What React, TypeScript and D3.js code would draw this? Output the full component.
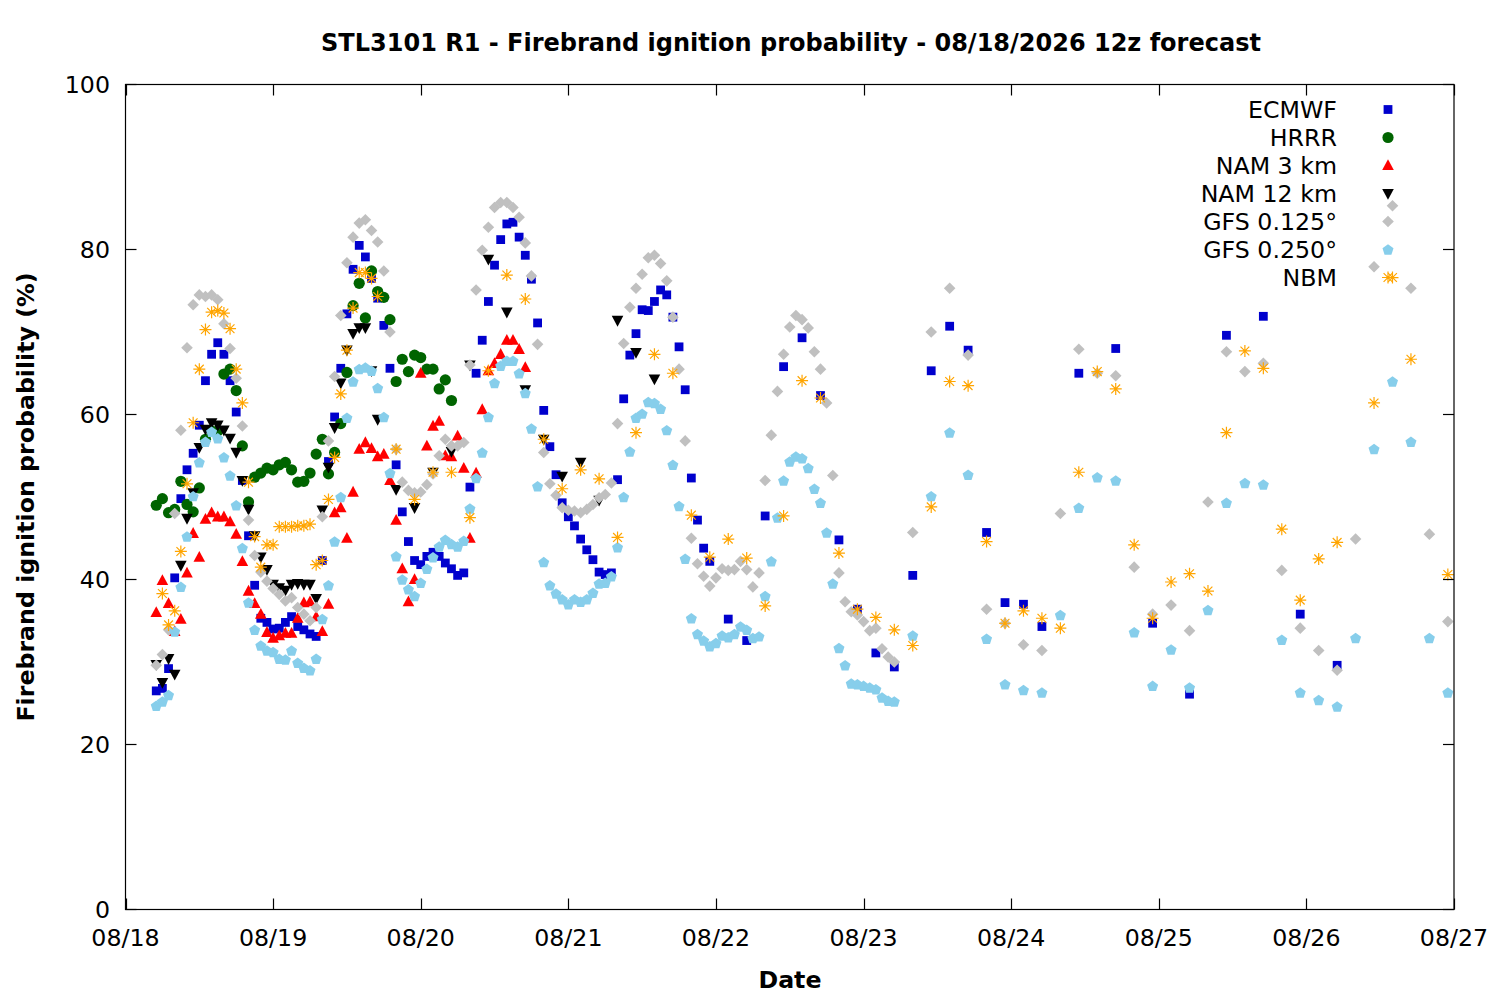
import React, { useEffect, useRef } from 'react';
import * as d3 from 'd3';

// Forecast hours of the 12z run; hour 0 sits at 08/18 05:00 on the (local) axis
const runStart = Date.UTC(2026, 7, 18, 5);

const ecmwfHours = [...d3.range(0, 91), ...d3.range(93, 145, 3), ...d3.range(150, 193, 6)];
const ecmwfValues = [
    26.5, 26.8, 29.2, 40.2, 49.8, 53.3, 55.3, 58.7, 64.1, 67.3,
    68.7, 67.3, 64.1, 60.3, 52.0, 45.3, 39.3, 35.3, 34.8, 34.0,
    34.1, 34.8, 35.5, 34.3, 33.9, 33.4, 33.1, 42.3, 54.3, 59.7,
    65.6, 72.2, 77.6, 80.5, 79.1, 76.5, 74.1, 70.8, 65.6, 53.9,
    48.2, 44.6, 42.3, 41.8, 42.8, 43.3, 42.8, 42.0, 41.3, 40.5,
    40.8, 51.2, 65.0, 69.0, 73.7, 78.1, 81.2, 83.1, 83.3, 81.5,
    79.3, 76.4, 71.1, 60.5, 56.1, 52.7, 49.3, 47.6, 46.5, 44.9,
    43.6, 42.4, 40.9, 40.6, 40.8, 52.1, 61.9, 67.2, 69.8, 72.7,
    72.6, 73.7, 75.1, 74.5, 71.8, 68.2, 63.0, 52.3, 47.2, 43.8,
    42.2,
    // 3-hourly
    35.2, 32.6, 47.7, 65.8, 69.3, 62.3, 44.8, 36.4, 31.1, 29.4,
    40.5, 65.3, 70.7, 67.8, 45.7, 37.2, 37.0, 34.3,
    // 6-hourly
    65.0, 68.0, 34.7, 26.1, 69.6, 71.9, 35.8, 29.6
];

const hrrrHours = d3.range(0, 49);
const hrrrValues = [
    49.0, 49.8, 48.1, 48.5, 51.9, 49.1, 48.2, 51.1, 57.0, 58.0,
    58.0, 64.9, 65.5, 62.9, 56.2, 49.4, 52.4, 52.9, 53.5, 53.3,
    53.9, 54.2, 53.3, 51.8, 51.9, 52.9, 55.2, 57.0, 52.8, 55.4,
    58.9, 65.1, 73.2, 75.9, 71.7, 77.4, 74.9, 74.2, 71.5, 64.0,
    66.7, 65.2, 67.2, 66.9, 65.5, 65.5, 63.1, 64.2, 61.7
];

const nam3Hours = d3.range(0, 61);
const nam3Values = [
    36.0, 39.9, 37.1, 33.7, 35.2, 40.8, 45.6, 42.7, 47.3, 48.1,
    47.6, 47.6, 47.0, 45.5, 42.2, 38.6, 37.1, 35.8, 33.6, 32.9,
    33.2, 33.5, 33.5, 35.3, 37.2, 37.3, 35.5, 33.7, 37.0, 48.1,
    48.7, 45.0, 50.6, 55.8, 56.6, 55.9, 54.9, 55.2, 52.0, 47.2,
    41.3, 37.3, 40.0, 65.0, 56.2, 58.6, 59.2, 55.0, 54.9, 57.4,
    53.5, 45.0, 52.9, 60.6, 65.3, 66.2, 67.3, 69.0, 69.0, 67.9,
    65.7
];

const nam12Hours = [...d3.range(0, 37), ...d3.range(39, 82, 3)];
const nam12Values = [
    29.7, 27.5, 30.4, 28.5, 41.7, 47.4, 50.5, 56.0, 58.2, 59.0,
    58.7, 58.1, 57.1, 55.4, 52.0, 48.5, 45.3, 42.7, 41.2, 39.4,
    39.0, 38.7, 39.4, 39.5, 39.4, 39.4, 37.7, 48.4, 53.6, 58.4,
    63.8, 67.8, 69.8, 70.5, 70.5, 65.3, 59.4,
    // 3-hourly
    50.9, 48.7, 53.0, 55.5, 66.0, 78.8, 72.4, 63.0, 57.0, 52.5,
    54.2, 49.6, 71.4, 67.5, 64.3
];

const gfsHours = [...d3.range(0, 121), ...d3.range(123, 211, 3)];
const gfs0125Values = [
    29.6, 30.9, 33.9, 48.0, 58.1, 68.1, 73.3, 74.5, 74.3, 74.5,
    73.9, 71.0, 68.0, 64.4, 58.6, 47.2, 42.9, 40.9, 39.8, 38.9,
    38.2, 37.4, 37.8, 36.6, 35.8, 35.0, 36.6, 47.6, 56.8, 64.6,
    72.0, 78.4, 81.5, 83.2, 83.6, 82.3, 80.9, 77.4, 70.0, 55.8,
    51.8, 50.8, 50.5, 50.6, 51.5, 52.8, 55.0, 57.0, 56.2, 56.2,
    56.6, 66.0, 75.1, 79.9, 82.7, 85.1, 85.7, 85.7, 85.1, 83.9,
    80.8, 76.8, 68.5, 55.4, 51.6, 50.2, 48.7, 48.4, 48.3, 48.1,
    48.5, 49.1, 49.9, 50.3, 51.7, 58.9, 68.6, 73.0, 75.3, 77.0,
    79.0, 79.3, 78.3, 76.2, 71.8, 65.5, 56.8, 45.0, 41.9, 40.4,
    39.2, 40.2, 41.3, 41.1, 41.2, 42.2, 41.2, 39.1, 40.8, 52.0,
    57.5, 62.8, 67.3, 70.6, 72.0, 71.5, 70.5, 67.6, 65.5, 61.4,
    52.6, 40.8, 37.3, 36.1, 35.7, 34.9, 33.8, 34.1, 31.6, 30.6,
    30.0,
    // 3-hourly
    45.7, 70.0, 75.3, 67.2, 36.4, 34.7, 32.1, 31.4, 48.0, 67.9,
    65.0, 64.7, 41.5, 35.8, 36.9, 33.8, 49.4, 67.6, 65.2, 66.2,
    41.1, 34.1, 31.4, 29.0, 44.9, 77.9, 85.3, 75.3, 45.5, 34.9
];
const gfs0250Values = [
    24.7, 25.2, 26.0, 33.7, 39.1, 45.2, 50.1, 54.2, 56.7, 57.9,
    57.1, 54.8, 52.6, 49.0, 43.8, 37.2, 33.9, 32.0, 31.4, 31.2,
    30.4, 30.3, 31.4, 29.9, 29.3, 29.0, 30.4, 35.2, 39.3, 44.6,
    50.0, 59.6, 64.0, 65.5, 65.7, 65.3, 63.2, 59.7, 52.9, 42.8,
    40.0, 38.8, 38.0, 39.6, 41.3, 42.7, 44.0, 44.8, 44.3, 44.0,
    44.7, 48.6, 52.3, 55.4, 59.7, 63.8, 65.9, 66.5, 66.5, 65.0,
    62.6, 58.3, 51.3, 42.1, 39.3, 38.3, 37.6, 37.0, 37.6, 37.3,
    37.6, 38.4, 39.5, 39.6, 40.4, 43.9, 50.0, 55.5, 59.6, 60.1,
    61.5, 61.4, 60.7, 58.1, 53.9, 48.9, 42.5, 35.3, 33.4, 32.6,
    31.9, 32.3, 33.2, 33.0, 33.4, 34.3, 33.9, 32.9, 33.1, 38.0,
    42.2, 47.5, 52.0, 54.3, 54.9, 54.7, 53.5, 51.0, 49.3, 45.7,
    39.5, 31.7, 29.6, 27.4, 27.3, 27.1, 26.9, 26.7, 25.7, 25.3,
    25.2,
    // 3-hourly
    33.2, 50.1, 57.8, 52.7, 32.8, 27.3, 26.6, 26.3, 35.7, 48.7,
    52.4, 52.0, 33.6, 27.1, 31.5, 26.9, 36.3, 49.3, 51.7, 51.5,
    32.7, 26.3, 25.4, 24.6, 32.9, 55.8, 64.0, 56.7, 32.9, 26.3
];

const nbmHours = [...d3.range(1, 37), ...d3.range(39, 193, 3), 198, 201, 204, 210];
const nbmValues = [
    38.3, 34.5, 36.2, 43.4, 51.6, 59.0, 65.5, 70.3, 72.4,
    72.6, 72.3, 70.4, 65.5, 61.4, 51.8, 45.2, 41.5, 44.2, 44.2,
    46.4, 46.4, 46.4, 46.5, 46.5, 46.7, 41.8, 42.3, 49.7, 54.8,
    62.5, 67.8, 72.9, 77.2, 77.2, 76.5, 74.3,
    // 3-hourly
    55.8, 49.7, 53.0, 53.0, 47.5, 65.3, 76.9, 74.0, 57.0, 51.0,
    53.3, 52.2, 45.1, 57.8, 67.3, 65.0, 47.8, 42.7, 44.9, 42.6,
    36.8, 47.7, 64.1, 62.0, 43.2, 36.4, 35.4, 33.9, 32.0, 48.8,
    64.0, 63.5, 44.6, 34.7, 36.2, 35.3, 34.1, 53.0, 65.2, 63.1,
    44.2, 35.3, 39.7, 40.7, 38.6, 57.8, 67.7, 65.6, 46.1, 37.5,
    42.5, 44.5,
    61.4, 76.6, 66.7, 40.6
];

const yTicks = [0, 20, 40, 60, 80, 100];

type Shape = 'square' | 'circle' | 'triUp' | 'triDown' | 'diamond' | 'pentagon' | 'star';

const series: { name: string; hours: number[]; values: number[]; color: string; shape: Shape }[] = [
    { name: 'ECMWF', hours: ecmwfHours, values: ecmwfValues, color: '#0000cd', shape: 'square' },
    { name: 'HRRR', hours: hrrrHours, values: hrrrValues, color: '#006400', shape: 'circle' },
    { name: 'NAM 3 km', hours: nam3Hours, values: nam3Values, color: '#ff0000', shape: 'triUp' },
    { name: 'NAM 12 km', hours: nam12Hours, values: nam12Values, color: '#000000', shape: 'triDown' },
    { name: 'GFS 0.125°', hours: gfsHours, values: gfs0125Values, color: '#c0c0c0', shape: 'diamond' },
    { name: 'GFS 0.250°', hours: gfsHours, values: gfs0250Values, color: '#87ceeb', shape: 'pentagon' },
    { name: 'NBM', hours: nbmHours, values: nbmValues, color: '#ffa500', shape: 'star' }
];

const poly = (pts: [number, number][]) => 'M' + pts.map(p => p[0].toFixed(2) + ',' + p[1].toFixed(2)).join('L') + 'Z';

function shapePath(shape: Shape): string {
    switch (shape) {
        case 'square':
            return poly([[-4.4, -4.4], [4.4, -4.4], [4.4, 4.4], [-4.4, 4.4]]);
        case 'circle':
            return d3.symbol(d3.symbolCircle, Math.PI * 5.6 * 5.6)() as string;
        case 'triUp':
            return poly([[0, -6.2], [5.8, 4.6], [-5.8, 4.6]]);
        case 'triDown':
            return poly([[0, 6.2], [5.8, -4.6], [-5.8, -4.6]]);
        case 'diamond':
            return poly([[0, -5.8], [5.8, 0], [0, 5.8], [-5.8, 0]]);
        case 'pentagon':
            return poly(d3.range(5).map(i => {
                const a = -Math.PI / 2 + i * 2 * Math.PI / 5;
                return [5.8 * Math.cos(a), 5.8 * Math.sin(a) + 0.5] as [number, number];
            }));
        case 'star':
            return 'M-6,0H6M0,-6V6M-4.4,-4.4L4.4,4.4M-4.4,4.4L4.4,-4.4';
    }
}

const App: React.FC = () => {
    const svgRef = useRef<SVGSVGElement>(null);

    useEffect(() => {
        if (!svgRef.current) return;
        const svg = d3.select(svgRef.current);
        svg.selectAll('*').remove();

        const left = 125.5, right = 1454, top = 84.5, bottom = 909.5;
        const font = "'DejaVu Sans', sans-serif";
        const fs = 23.7;

        const x = d3.scaleUtc()
            .domain([new Date(Date.UTC(2026, 7, 18)), new Date(Date.UTC(2026, 7, 27))])
            .range([left, right]);
        const y = d3.scaleLinear().domain([0, 100]).range([bottom, top]);
        const toDate = (h: number) => new Date(runStart + h * 3600 * 1000);

        svg.append('rect').attr('width', 1500).attr('height', 1000).attr('fill', 'white');

        // points, in gnuplot plot order
        series.forEach(s => {
            const d = shapePath(s.shape);
            const g = svg.append('g');
            s.hours.forEach((h, i) => {
                const v = s.values[i];
                if (v === undefined) return;
                const p = g.append('path')
                    .attr('d', d)
                    .attr('transform', `translate(${x(toDate(h)).toFixed(2)},${y(v).toFixed(2)})`);
                if (s.shape === 'star') {
                    p.attr('fill', 'none').attr('stroke', s.color).attr('stroke-width', 1.2);
                } else {
                    p.attr('fill', s.color);
                }
            });
        });

        // border
        svg.append('rect')
            .attr('x', left).attr('y', top)
            .attr('width', right - left).attr('height', bottom - top)
            .attr('fill', 'none').attr('stroke', 'black').attr('stroke-width', 1.2);

        const tickLen = 11;
        const dayTicks = x.ticks(d3.utcDay.every(1) as d3.CountableTimeInterval);
        const fmt = d3.utcFormat('%m/%d');
        dayTicks.forEach(t => {
            const px = Math.round(x(t)) + 0.5;
            svg.append('line').attr('x1', px).attr('x2', px).attr('y1', bottom).attr('y2', bottom - tickLen)
                .attr('stroke', 'black').attr('stroke-width', 1.2);
            svg.append('line').attr('x1', px).attr('x2', px).attr('y1', top).attr('y2', top + tickLen)
                .attr('stroke', 'black').attr('stroke-width', 1.2);
            svg.append('text')
                .attr('x', x(t)).attr('y', 946)
                .attr('text-anchor', 'middle')
                .attr('font-family', font).attr('font-size', fs)
                .text(fmt(t));
        });

        yTicks.forEach(t => {
            const py = y(t);
            svg.append('line').attr('x1', left).attr('x2', left + tickLen).attr('y1', py).attr('y2', py)
                .attr('stroke', 'black').attr('stroke-width', 1.2);
            svg.append('line').attr('x1', right).attr('x2', right - tickLen).attr('y1', py).attr('y2', py)
                .attr('stroke', 'black').attr('stroke-width', 1.2);
            svg.append('text')
                .attr('x', 110).attr('y', py + 8.7)
                .attr('text-anchor', 'end')
                .attr('font-family', font).attr('font-size', fs)
                .text(t);
        });

        // titles
        svg.append('text')
            .attr('x', 791).attr('y', 51)
            .attr('text-anchor', 'middle')
            .attr('font-family', font).attr('font-size', 24).attr('font-weight', 'bold')
            .text('STL3101 R1 - Firebrand ignition probability - 08/18/2026 12z forecast');
        svg.append('text')
            .attr('x', 790).attr('y', 988)
            .attr('text-anchor', 'middle')
            .attr('font-family', font).attr('font-size', fs).attr('font-weight', 'bold')
            .text('Date');
        svg.append('text')
            .attr('transform', `translate(34, ${(top + bottom) / 2}) rotate(-90)`)
            .attr('text-anchor', 'middle')
            .attr('font-family', font).attr('font-size', fs).attr('font-weight', 'bold')
            .text('Firebrand ignition probability (%)');

        // legend
        series.forEach((s, i) => {
            const cy = 109.5 + i * 28;
            svg.append('text')
                .attr('x', 1337).attr('y', cy + 8.6)
                .attr('text-anchor', 'end')
                .attr('font-family', font).attr('font-size', fs)
                .text(s.name);
            const p = svg.append('path')
                .attr('d', shapePath(s.shape))
                .attr('transform', `translate(1388,${cy})`);
            if (s.shape === 'star') {
                p.attr('fill', 'none').attr('stroke', s.color).attr('stroke-width', 1.2);
            } else {
                p.attr('fill', s.color);
            }
        });
    }, []);

    return (
        <svg ref={svgRef} width={1500} height={1000}
            style={{ position: 'absolute', left: 0, top: 0, display: 'block' }} />
    );
};

export default App;
